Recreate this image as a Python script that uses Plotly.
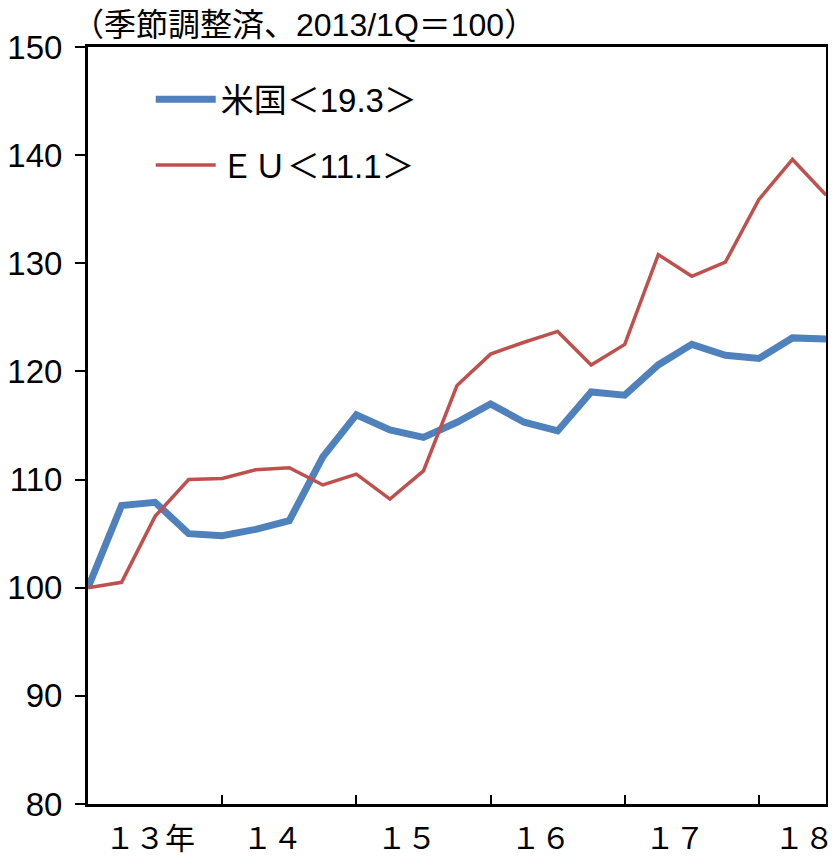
import plotly.graph_objects as go

quarters = [f"{y}Q{q}" for y in range(2013, 2019) for q in range(1, 5)][:23]
us_values = [100.0, 107.6, 107.9, 105.0, 104.8, 105.4, 106.2, 112.1, 116.0, 114.6, 113.9,
             115.3, 117.0, 115.3, 114.5, 118.1, 117.8, 120.6, 122.5, 121.5, 121.2, 123.1, 123.0]
eu_values = [100.0, 100.5, 106.6, 110.0, 110.1, 110.9, 111.1, 109.5, 110.5, 108.2, 110.8,
             118.7, 121.6, 122.7, 123.7, 120.6, 122.5, 130.8, 128.8, 130.1, 135.9, 139.6, 136.3]
series_names = ["米国＜19.3＞", "ＥＵ＜11.1＞"]
year_labels = ["１３年", "１４", "１５", "１６", "１７", "１８"]
year_label_pos = [1.85, 5.5, 9.5, 13.5, 17.5, 21.35]
year_tick_pos = [4, 8, 12, 16, 20]
y_ticks = [80, 90, 100, 110, 120, 130, 140, 150]
title_text = "（季節調整済、2013/1Q＝100）"

xidx = list(range(len(quarters)))
FONT = "Liberation Sans, Noto Sans CJK JP, sans-serif"

fig = go.Figure()
fig.add_trace(go.Scatter(x=xidx, y=us_values, mode="lines", name=series_names[0],
                         line=dict(color="#4F81BD", width=7), legendgroup="a"))
fig.add_trace(go.Scatter(x=xidx, y=eu_values, mode="lines", name=series_names[1],
                         line=dict(color="#C0504D", width=3.5), legendgroup="b"))
fig.add_trace(go.Scatter(x=[0, 22], y=[80, 80], xaxis="x2", mode="lines",
                         line=dict(width=0), showlegend=False, hoverinfo="skip"))

fig.update_layout(
    width=828, height=856,
    margin=dict(l=80, r=10, t=39, b=60, autoexpand=False),
    paper_bgcolor="white", plot_bgcolor="white",
    font=dict(family=FONT, color="black", size=33),
    showlegend=True,
    legend=dict(x=0.085, y=0.968, xanchor="left", yanchor="top",
                font=dict(family=FONT, size=33, color="black"),
                bgcolor="rgba(0,0,0,0)", tracegroupgap=20, itemwidth=60),
    xaxis=dict(range=[0, 22], tickvals=year_tick_pos, ticktext=[""] * len(year_tick_pos),
               ticks="inside", ticklen=9, tickwidth=2, tickcolor="black",
               showline=True, linecolor="black", linewidth=3, mirror=True,
               showgrid=False, zeroline=False, automargin=False),
    xaxis2=dict(range=[0, 22], overlaying="x", side="bottom", anchor="y",
                tickvals=year_label_pos, ticktext=year_labels, ticks="",
                tickfont=dict(family="Noto Sans CJK JP", size=30),
                showline=False, showgrid=False, zeroline=False, ticklabelstandoff=14,
                automargin=False),
    yaxis=dict(range=[80, 150], tickvals=y_ticks, ticks="outside", ticklen=10,
               tickwidth=2, tickcolor="black", showline=True, linecolor="black",
               linewidth=3, mirror=True, showgrid=False, zeroline=False,
               tickfont=dict(family=FONT, size=33), ticklabelstandoff=6,
               automargin=False),
    annotations=[dict(text=title_text, xref="paper", yref="paper", x=-0.025, y=1.0,
                      xanchor="left", yanchor="bottom", showarrow=False, yshift=2,
                      font=dict(family=FONT, size=32, color="black"))],
)

fig.write_html("out.html")
